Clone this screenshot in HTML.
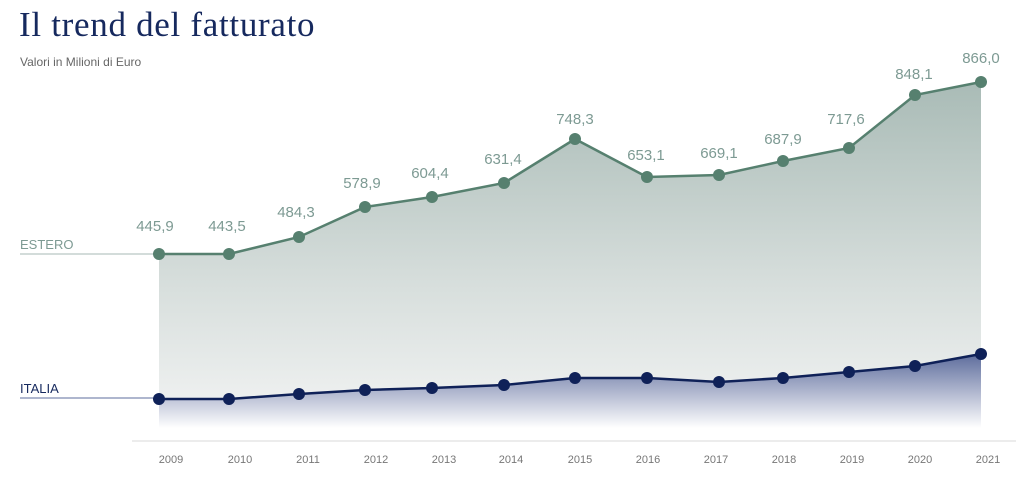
<!DOCTYPE html>
<html><head><meta charset="utf-8"><style>
body{margin:0;background:#fff;width:1024px;height:485px;overflow:hidden}
</style></head><body>
<svg width="1024" height="485" xmlns="http://www.w3.org/2000/svg">
<defs>
<linearGradient id="g1" x1="0" y1="82" x2="0" y2="428" gradientUnits="userSpaceOnUse">
<stop offset="0" stop-color="#a9bbb6"/><stop offset="0.6" stop-color="#d8dfdd"/><stop offset="1" stop-color="#f3f4f4"/></linearGradient>
<linearGradient id="g2" x1="0" y1="354" x2="0" y2="428" gradientUnits="userSpaceOnUse">
<stop offset="0" stop-color="#5d6c9c"/><stop offset="1" stop-color="#ffffff"/></linearGradient>
</defs>
<text x="19" y="36" font-family="Liberation Serif, serif" font-size="35" letter-spacing="0.7" fill="#16295e">Il trend del fatturato</text>
<text x="20" y="66" font-family="Liberation Sans, sans-serif" font-size="12" fill="#666">Valori in Milioni di Euro</text>
<polygon fill="url(#g1)" points="159,254 229,254 299,237 365,207 432,197 504,183 575,139 647,177 719,175 783,161 849,148 915,95 981,82 981,428 159,428"/>
<polygon fill="url(#g2)" points="159,399 229,399 299,394 365,390 432,388 504,385 575,378 647,378 719,382 783,378 849,372 915,366 981,354 981,428 159,428"/>
<line x1="20" y1="254" x2="159" y2="254" stroke="#a7bab5" stroke-width="1"/>
<line x1="20" y1="398" x2="159" y2="398" stroke="#5d6c9c" stroke-width="1"/>
<text x="20" y="249" font-family="Liberation Sans, sans-serif" font-size="13" fill="#7d9a93">ESTERO</text>
<text x="20" y="393" font-family="Liberation Sans, sans-serif" font-size="13" fill="#16295e">ITALIA</text>
<polyline fill="none" stroke="#56806f" stroke-width="2.5" points="159,254 229,254 299,237 365,207 432,197 504,183 575,139 647,177 719,175 783,161 849,148 915,95 981,82"/>
<polyline fill="none" stroke="#0f2158" stroke-width="2.5" points="159,399 229,399 299,394 365,390 432,388 504,385 575,378 647,378 719,382 783,378 849,372 915,366 981,354"/>
<g fill="#56806f">
<circle cx="159" cy="254" r="6"/><circle cx="229" cy="254" r="6"/><circle cx="299" cy="237" r="6"/><circle cx="365" cy="207" r="6"/><circle cx="432" cy="197" r="6"/><circle cx="504" cy="183" r="6"/><circle cx="575" cy="139" r="6"/><circle cx="647" cy="177" r="6"/><circle cx="719" cy="175" r="6"/><circle cx="783" cy="161" r="6"/><circle cx="849" cy="148" r="6"/><circle cx="915" cy="95" r="6"/><circle cx="981" cy="82" r="6"/>
</g>
<g fill="#0f2158">
<circle cx="159" cy="399" r="6"/><circle cx="229" cy="399" r="6"/><circle cx="299" cy="394" r="6"/><circle cx="365" cy="390" r="6"/><circle cx="432" cy="388" r="6"/><circle cx="504" cy="385" r="6"/><circle cx="575" cy="378" r="6"/><circle cx="647" cy="378" r="6"/><circle cx="719" cy="382" r="6"/><circle cx="783" cy="378" r="6"/><circle cx="849" cy="372" r="6"/><circle cx="915" cy="366" r="6"/><circle cx="981" cy="354" r="6"/>
</g>
<g font-family="Liberation Sans, sans-serif" font-size="15" fill="#7d9a93" text-anchor="middle">
<text x="155" y="231">445,9</text><text x="227" y="231">443,5</text><text x="296" y="217">484,3</text><text x="362" y="188">578,9</text><text x="430" y="178">604,4</text><text x="503" y="164">631,4</text><text x="575" y="124">748,3</text><text x="646" y="160">653,1</text><text x="719" y="158">669,1</text><text x="783" y="144">687,9</text><text x="846" y="124">717,6</text><text x="914" y="79">848,1</text><text x="981" y="63">866,0</text>
</g>
<line x1="132" y1="441" x2="1016" y2="441" stroke="#d8d8d8" stroke-width="1"/>
<g font-family="Liberation Sans, sans-serif" font-size="11" fill="#777" text-anchor="middle">
<text x="171" y="463">2009</text><text x="240" y="463">2010</text><text x="308" y="463">2011</text><text x="376" y="463">2012</text><text x="444" y="463">2013</text><text x="511" y="463">2014</text><text x="580" y="463">2015</text><text x="648" y="463">2016</text><text x="716" y="463">2017</text><text x="784" y="463">2018</text><text x="852" y="463">2019</text><text x="920" y="463">2020</text><text x="988" y="463">2021</text>
</g>
</svg>
</body></html>
